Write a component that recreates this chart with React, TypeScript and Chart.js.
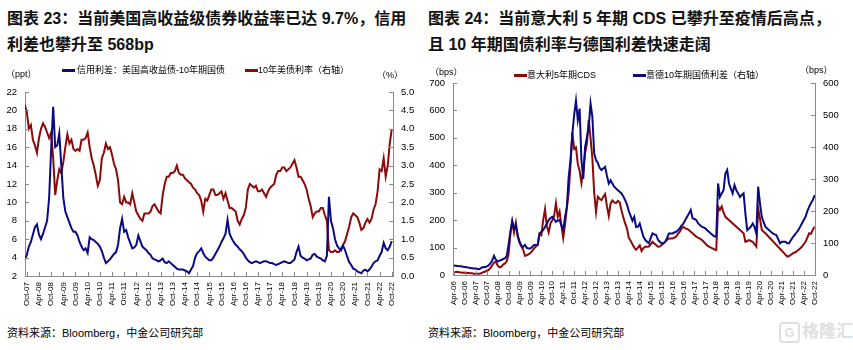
import React, { useEffect, useRef } from "react";
import { Chart, registerables } from "chart.js";

Chart.register(...registerables);

const FONT = '"Liberation Sans", Arial, "Noto Sans CJK SC", sans-serif';
const RED = "#8B0A0A";
const BLUE = "#0A0A82";
const AXIS = "#8a8a8a";

// ---------- 图表 23 (monthly, month index 0 = Oct-07) ----------
const usStartMonth = -1;
const usTickLabels = [
  "Oct-07", "Apr-08", "Oct-08", "Apr-09", "Oct-09", "Apr-10", "Oct-10", "Apr-11",
  "Oct-11", "Apr-12", "Oct-12", "Apr-13", "Oct-13", "Apr-14", "Oct-14", "Apr-15",
  "Oct-15", "Apr-16", "Oct-16", "Apr-17", "Oct-17", "Apr-18", "Oct-18", "Apr-19",
  "Oct-19", "Apr-20", "Oct-20", "Apr-21", "Oct-21", "Apr-22", "Oct-22",
];
// 信用利差：美国高收益债-10年期国债 (ppt)
const hySpread = [
  3.8, 4.3, 5.2, 5.7, 6.5, 7.3, 7.6, 6.5, 6.0, 6.6, 7.3, 8.0,
  10.5, 15.8, 20.4, 16.0, 16.2, 17.5, 14.0, 10.5, 9.0, 8.4, 7.8, 7.2,
  6.8, 6.8, 6.4, 5.7, 5.2, 4.8, 5.0, 4.5, 6.2, 6.0, 5.9, 5.7,
  5.5, 5.2, 4.7, 4.0, 3.4, 3.6, 3.8, 4.1, 4.4, 4.6, 5.4, 7.2,
  8.2, 6.8, 7.0, 6.2, 5.6, 5.0, 5.1, 5.4, 6.4, 5.8, 5.2, 5.0,
  4.8, 4.5, 4.3, 3.9, 3.8, 3.7, 3.6, 3.7, 3.9, 3.5, 3.4, 3.6,
  3.4, 3.2, 3.0, 2.8, 2.7, 2.7, 2.7, 2.6, 2.5, 2.3, 2.7, 3.1,
  4.0, 4.5, 4.7, 5.0, 4.5, 4.1, 3.9, 3.7, 3.7, 4.0, 4.4, 4.8,
  5.2, 5.7, 6.1, 6.6, 8.1, 6.6, 6.1, 5.7, 5.4, 5.2, 4.9, 4.7,
  4.4, 4.0, 3.7, 3.5, 3.4, 3.5, 3.6, 3.5, 3.4, 3.5, 3.6, 3.6,
  3.5, 3.4, 3.4, 3.3, 3.2, 3.3, 3.4, 3.5, 3.6, 3.5, 3.4, 3.4,
  3.6, 3.8, 4.6, 5.2, 4.2, 4.0, 3.9, 3.7, 3.8, 3.9, 4.3, 4.4,
  4.1, 4.0, 3.9, 3.7, 3.6, 4.2, 10.6, 8.0, 7.2, 6.0, 5.3, 5.0,
  4.8, 5.3, 4.8, 4.1, 3.5, 3.2, 2.8, 2.7, 2.5, 2.4, 2.3, 2.6,
  2.7, 2.5, 2.7, 3.0, 3.4, 3.6, 3.7, 4.2, 4.6, 5.6, 5.0, 4.8,
  5.2, 5.8,
];
// 10年美债利率 (%)
const ust10y = [
  4.65, 4.45, 4.0, 4.1, 3.7, 3.55, 3.35, 3.75, 4.0, 4.15, 4.05, 3.9,
  3.75, 3.9, 3.2, 2.2, 2.6, 2.9, 2.8, 3.1, 3.5, 3.85, 3.6, 3.7,
  3.45, 3.4, 3.45, 3.4, 3.7, 3.7, 3.75, 3.9, 3.5, 3.2, 3.0, 2.75,
  2.45, 2.6, 3.2, 3.35, 3.6, 3.45, 3.5, 3.3, 3.05, 2.9, 2.6, 2.0,
  1.95, 2.15, 2.0, 2.0, 1.95, 2.25, 2.0, 1.75, 1.65, 1.55, 1.5, 1.7,
  1.7, 1.7, 1.75, 1.9, 1.95, 1.85, 1.75, 1.7, 2.2, 2.5, 2.7, 2.7,
  2.8, 2.8, 2.85, 3.0, 2.8, 2.75, 2.75, 2.65, 2.6, 2.55, 2.5, 2.4,
  2.35, 2.25, 2.2, 2.05, 1.75, 2.1, 2.05, 2.2, 2.35, 2.35, 2.2, 2.2,
  2.25, 2.3, 2.1, 2.25, 2.05, 1.85, 1.85, 1.8, 1.75, 1.5, 1.4, 1.55,
  1.65, 1.85, 2.35, 2.5, 2.45, 2.4, 2.45, 2.3, 2.3, 2.35, 2.25, 2.15,
  2.3, 2.4, 2.45, 2.5, 2.75, 2.85, 2.85, 2.95, 2.95, 2.85, 2.9, 2.95,
  3.05, 3.15, 2.95, 2.7, 2.7, 2.6, 2.5, 2.35, 2.1, 1.9, 1.6, 1.7,
  1.75, 1.75, 1.85, 1.85, 1.65, 1.5, 0.7, 0.65, 0.65, 0.7, 0.65, 0.65,
  0.75, 0.85, 0.95, 1.15, 1.35, 1.6, 1.7, 1.65, 1.6, 1.45, 1.25, 1.3,
  1.45, 1.55, 1.45, 1.55, 1.8, 1.95, 2.3, 2.9, 2.85, 3.2, 2.7, 3.0,
  3.6, 4.0,
];

// ---------- 图表 24 (monthly, month index 0 = Apr-06) ----------
const euTickLabels = [
  "Apr-06", "Oct-06", "Apr-07", "Oct-07", "Apr-08", "Oct-08", "Apr-09", "Oct-09",
  "Apr-10", "Oct-10", "Apr-11", "Oct-11", "Apr-12", "Oct-12", "Apr-13", "Oct-13",
  "Apr-14", "Oct-14", "Apr-15", "Oct-15", "Apr-16", "Oct-16", "Apr-17", "Oct-17",
  "Apr-18", "Oct-18", "Apr-19", "Oct-19", "Apr-20", "Oct-20", "Apr-21", "Oct-21",
  "Apr-22", "Oct-22",
];
// 意大利5年期CDS (bps), null = no observation
const italyCds = [
  10, 11, 12, 10, 9, 8, 8, 7, 7, 6, 6, 5,
  5, 5, 5, 6, 10, 12, 16, 18, 25, 35, 45, 48,
  35, 28, 30, 38, 42, 50, 75, 150, 195, 155, 190, 140,
  118, 105, 92, 70, 72, 76, 80, 88, 97, 104, 110, 150,
  145, 200, 240, 178, 155, 188, 200, 215, 262, 212, 232, 180,
  135, 185, 245, 300, 400, 520, 460, 465, 405, 380, 335, 380,
  445, 480, 565, 500, 425, 300, 230, 285, 278, 273, 285, 295,
  250, 215, 260, 272, 265, 262, 270, 265, 235, 210, 188, 170,
  135, 125, 112, 100, 92, 100, 108, 88, 98, 103, 103, 104,
  112, 121, 115, 109, 103, 104, 109, 115, 121, 128, 133, 133,
  133, 136, 140, 150, 158, 170, 176, 170, 168, 164, 158, 152,
  146, 140, 136, 133, 128, 122, 115, 108, 103, 100, 97, 93,
  91, 249, 237, 250, 228, 212, null, null, null, null, null, null,
  null, null, null, 152, 121, 124, 127, 124, 121, 112, 103, 243,
  205, 164, 158, 152, null, null, null, null, null, null, null, null,
  null, null, null, 67, 69, 74, 79, 82, 85, 91, 97, 103,
  112, 121, 136, 152, 150, 165, 176,
];
// 意德10年期国债利差 (bps)
const btpBund = [
  30, 29, 28, 27, 27, 26, 25, 24, 23, 22, 21, 20,
  20, 19, 18, 22, 25, 24, 27, 30, 36, 45, 60, 48,
  42, 45, 47, 50, 52, 60, 95, 135, 168, 145, 156, 125,
  105, 92, 88, 94, 85, 83, 83, 88, 94, 94, 94, 130,
  135, 140, 150, 160, 172, 178, 182, 175, 166, 170, 172, 155,
  140, 182, 213, 307, 359, 440, 500, 545, 484, 520, 359, 300,
  400, 430, 463, 536, 494, 380, 359, 350, 335, 328, 333, 338,
  310, 286, 296, 286, 276, 270, 265, 260, 255, 245, 234, 220,
  200, 185, 170, 182, 150, 151, 161, 140, 120, 110, 104, 99,
  115, 130, 127, 125, 110, 104, 99, 99, 104, 115, 130, 130,
  130, 133, 135, 140, 146, 155, 161, 172, 182, 192, 203, 177,
  175, 172, 162, 156, 151, 149, 146, 140, 135, 130, 125, 120,
  120, 286, 244, 255, 265, 317, 328, 286, 270, 255, 281, 265,
  255, 244, 250, 255, 192, 140, 145, 151, 161, 150, 130, 276,
  224, 182, 165, 151, 145, 140, 135, 130, 127, 125, 112, 99,
  104, 104, 104, 99, 99, 109, 118, 125, 132, 140, 150, 161,
  172, 182, 200, 213, 225, 234, 250,
];

const toPoints = (vals: (number | null)[], start: number) =>
  vals.map((v, i) => ({ x: i + start, y: v }));

const innerTicks = {
  id: "innerTicks",
  afterDraw(chart: any) {
    const { ctx, chartArea } = chart;
    ctx.save();
    ctx.strokeStyle = AXIS;
    ctx.lineWidth = 1;
    ctx.beginPath();
    Object.values(chart.scales).forEach((s: any) => {
      s.ticks.forEach((t: any) => {
        const p = Math.round(s.getPixelForValue(t.value)) + 0.5;
        if (s.axis === "x") {
          ctx.moveTo(p, chartArea.bottom);
          ctx.lineTo(p, chartArea.bottom - 4);
        } else if (s.position === "left") {
          ctx.moveTo(chartArea.left, p);
          ctx.lineTo(chartArea.left + 4, p);
        } else {
          ctx.moveTo(chartArea.right, p);
          ctx.lineTo(chartArea.right - 4, p);
        }
      });
    });
    ctx.stroke();
    ctx.restore();
  },
};

const tickFont = { family: FONT, size: 9.5 };
const xFont = { family: FONT, size: 8 };

function yAxis(position: "left" | "right", min: number, max: number, step: number, width: number, fmt?: (v: number) => string) {
  return {
    type: "linear",
    position,
    min,
    max,
    grid: { display: false, drawTicks: false },
    border: { display: true, color: AXIS, width: 1 },
    ticks: {
      stepSize: step,
      font: tickFont,
      color: "#000",
      padding: 8,
      callback: (v: any) => (fmt ? fmt(Number(v)) : String(v)),
    },
    afterFit: (s: any) => {
      s.width = width;
    },
  };
}

function xAxis(labels: string[], min: number, max: number) {
  return {
    type: "linear",
    min,
    max,
    grid: { display: false, drawTicks: false },
    border: { display: true, color: AXIS, width: 1 },
    afterBuildTicks: (s: any) => {
      s.ticks = labels.map((_, i) => ({ value: i * 6 }));
    },
    ticks: {
      autoSkip: false,
      minRotation: 90,
      maxRotation: 90,
      padding: 6,
      font: xFont,
      color: "#000",
      callback: (v: any) => labels[Math.round(Number(v) / 6)] ?? "",
    },
    afterFit: (s: any) => {
      s.height = 39;
    },
  };
}

function lineDs(data: any[], color: string, yAxisID: string) {
  return {
    data,
    borderColor: color,
    backgroundColor: color,
    borderWidth: 2,
    pointRadius: 0,
    tension: 0,
    spanGaps: true,
    yAxisID,
  };
}

function LeftChart() {
  const ref = useRef<HTMLCanvasElement>(null);
  useEffect(() => {
    const chart = new Chart(ref.current as HTMLCanvasElement, {
      type: "line",
      data: {
        datasets: [
          lineDs(toPoints(hySpread, usStartMonth), BLUE, "y"),
          lineDs(toPoints(ust10y, usStartMonth), RED, "y1"),
        ],
      },
      options: {
        responsive: false,
        animation: false,
        layout: { padding: { top: 37, left: 0, right: 0, bottom: 0 } },
        plugins: { legend: { display: false }, tooltip: { enabled: false } },
        scales: {
          x: xAxis(usTickLabels, -0.9, 180.6),
          y: yAxis("left", 2, 22, 2, 25),
          y1: yAxis("right", 0, 5, 0.5, 27, (v) => v.toFixed(1)),
        },
      } as any,
      plugins: [innerTicks],
    });
    return () => chart.destroy();
  }, []);
  return <canvas ref={ref} width={420} height={260} style={{ position: "absolute", left: 0, top: 55 }} />;
}

function RightChart() {
  const ref = useRef<HTMLCanvasElement>(null);
  useEffect(() => {
    const chart = new Chart(ref.current as HTMLCanvasElement, {
      type: "line",
      data: {
        datasets: [
          lineDs(toPoints(btpBund, 0), BLUE, "y1"),
          lineDs(toPoints(italyCds, 0), RED, "y"),
        ],
      },
      options: {
        responsive: false,
        animation: false,
        layout: { padding: { top: 28, left: 0, right: 0, bottom: 0 } },
        plugins: { legend: { display: false }, tooltip: { enabled: false } },
        scales: {
          x: xAxis(euTickLabels, -0.5, 198.2),
          y: yAxis("left", 0, 700, 100, 28),
          y1: yAxis("right", 0, 600, 100, 38),
        },
      } as any,
      plugins: [innerTicks],
    });
    return () => chart.destroy();
  }, []);
  return <canvas ref={ref} width={428} height={259} style={{ position: "absolute", left: 425, top: 55 }} />;
}

const abs = (left: number, top: number, extra: any = {}) => ({
  position: "absolute" as const,
  left,
  top,
  whiteSpace: "nowrap" as const,
  ...extra,
});

const titleStyle = { fontFamily: FONT, fontWeight: 700, fontSize: 16, lineHeight: "26px", color: "#111" };
const smallText = { fontFamily: FONT, fontSize: 9, lineHeight: "11px", color: "#000" };
const sourceText = { fontFamily: FONT, fontSize: 11, lineHeight: "14px", color: "#000" };

function LegendLine({ left, top, color }: { left: number; top: number; color: string }) {
  return <div style={abs(left, top, { width: 13, height: 2.5, background: color })} />;
}

export default function App() {
  useEffect(() => {
    document.body.style.margin = "0";
  }, []);
  return (
    <div style={{ position: "absolute", left: 0, top: 0, width: 853, height: 350, background: "#fff", overflow: "hidden" }}>
      {/* titles */}
      <div style={abs(7, 6, titleStyle)}>
        图表 23：当前美国高收益级债券收益率已达 9.7%，信用
        <br />
        利差也攀升至 568bp
      </div>
      <div style={abs(428, 6, titleStyle)}>
        图表 24：当前意大利 5 年期 CDS 已攀升至疫情后高点，
        <br />
        且 10 年期国债利率与德国利差快速走阔
      </div>

      <LeftChart />
      <RightChart />

      {/* left legend & units */}
      <div style={abs(6, 69, smallText)}>（ppt）</div>
      <LegendLine left={62} top={69} color={BLUE} />
      <div style={abs(77, 65, smallText)}>信用利差：美国高收益债-10年期国债</div>
      <LegendLine left={245} top={69} color={RED} />
      <div style={abs(258, 65, smallText)}>10年美债利率（右轴）</div>
      <div style={abs(377, 70, smallText)}>（%）</div>

      {/* right legend & units */}
      <div style={abs(430, 67, smallText)}>（bps）</div>
      <LegendLine left={514} top={74} color={RED} />
      <div style={abs(527, 70, smallText)}>意大利5年期CDS</div>
      <LegendLine left={633} top={74} color={BLUE} />
      <div style={abs(646, 70, smallText)}>意德10年期国债利差（右轴）</div>
      <div style={abs(800, 65, smallText)}>（bps）</div>

      {/* sources */}
      <div style={abs(7, 326, sourceText)}>资料来源：Bloomberg，中金公司研究部</div>
      <div style={abs(428, 326, sourceText)}>资料来源：Bloomberg，中金公司研究部</div>

      {/* watermark */}
      <div
        style={abs(779, 322, {
          width: 17,
          height: 17,
          border: "2px solid #e0e0e0",
          borderRadius: 4,
          color: "#e0e0e0",
          fontFamily: FONT,
          fontWeight: 700,
          fontSize: 13,
          lineHeight: "17px",
          textAlign: "center",
        })}
      >
        G
      </div>
      <div style={abs(802, 320, { color: "#e0e0e0", fontFamily: FONT, fontWeight: 700, fontSize: 17, lineHeight: "24px" })}>
        格隆汇
      </div>
    </div>
  );
}
